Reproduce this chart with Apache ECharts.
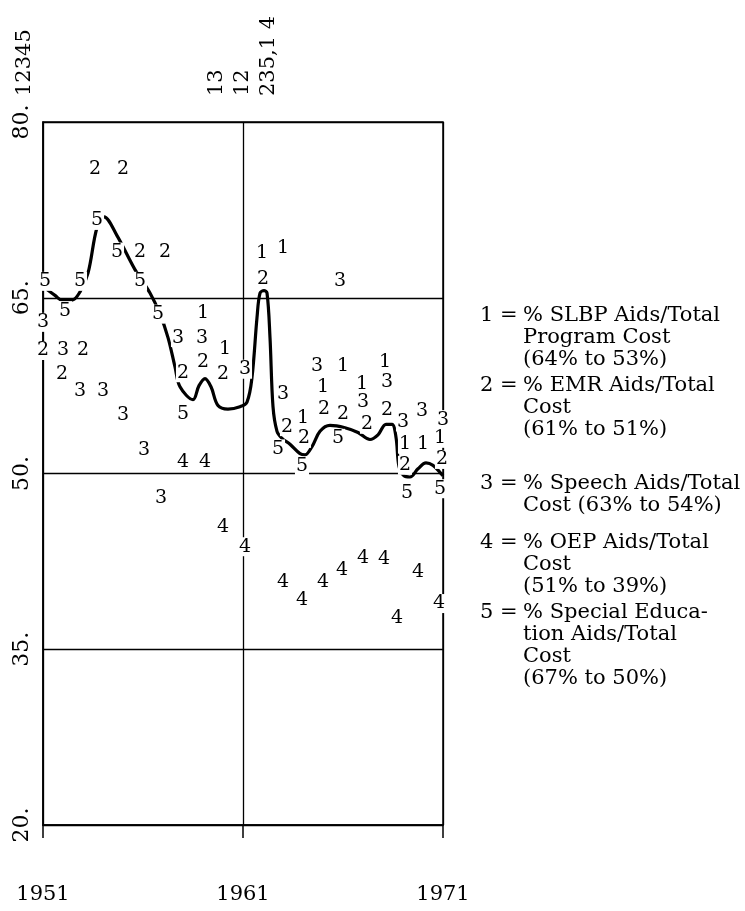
<!DOCTYPE html>
<html>
<head>
<meta charset="utf-8">
<script src="https://cdn.jsdelivr.net/npm/echarts@6/dist/echarts.min.js"></script>
<style>
  html, body { margin: 0; padding: 0; background: #fff; }
  #chart { width: 745px; height: 911px; }
</style>
</head>
<body>
<div id="chart"></div>
<script>
// ---- data ----
const slbpYears = [1959.0, 1960.1, 1961.95, 1963.0, 1964.0, 1965.0, 1966.0, 1966.95, 1968.1, 1969.1, 1970.0, 1970.85];
const slbpValues = [63.7, 60.6, 68.8, 69.2, 54.7, 57.4, 59.2, 57.6, 59.5, 52.5, 52.5, 53.0];

const emrYears = [1951.0, 1951.95, 1953.0, 1953.6, 1955.0, 1955.85, 1957.1, 1958.0, 1959.0, 1960.0, 1962.0, 1963.2, 1964.05, 1965.05, 1966.0, 1967.2, 1968.2, 1969.1, 1970.95];
const emrValues = [60.5, 58.5, 60.5, 76.0, 76.0, 68.9, 68.9, 58.6, 59.5, 58.5, 66.6, 54.0, 53.0, 55.5, 55.1, 54.2, 55.4, 50.7, 51.2];

const speechYears = [1951.0, 1952.0, 1952.85, 1954.0, 1955.0, 1956.05, 1956.9, 1957.75, 1958.95, 1961.1, 1963.0, 1964.7, 1965.85, 1967.0, 1968.2, 1969.0, 1969.95, 1971.0];
const speechValues = [62.9, 60.5, 57.0, 57.0, 55.0, 52.0, 47.9, 61.6, 61.6, 58.9, 56.8, 59.2, 66.4, 56.1, 57.8, 54.4, 55.3, 54.6];

const oepYears = [1958.0, 1959.1, 1960.0, 1961.1, 1963.0, 1963.95, 1965.0, 1965.95, 1967.0, 1968.05, 1968.7, 1969.75, 1970.8];
const oepValues = [51.0, 51.0, 45.4, 43.75, 40.75, 39.2, 40.75, 41.8, 42.8, 42.7, 37.7, 41.6, 38.9];

const speYears = [1951.1, 1952.1, 1952.85, 1953.7, 1954.7, 1955.85, 1956.75, 1958.0, 1962.75, 1963.95, 1965.75, 1969.2, 1970.85];
const speValues = [66.4, 63.9, 66.4, 71.6, 68.9, 66.4, 63.6, 55.1, 52.1, 50.6, 53.0, 48.3, 48.7];

// hand-drawn trend curve for series 5
const curveYears = [1951.2, 1951.6, 1951.95, 1952.45, 1952.85, 1953.25, 1953.7, 1954.05, 1954.7, 1955.6, 1956.35, 1956.85, 1957.25, 1957.6, 1957.85,
  1958.5, 1958.8, 1959.1, 1959.4, 1959.75, 1960.25, 1960.85, 1961.2, 1961.45, 1961.7, 1961.85, 1962.05, 1962.2, 1962.35, 1962.5, 1962.7, 1962.95,
  1963.35, 1963.85, 1964.1, 1964.45, 1964.85, 1965.35, 1966.1, 1966.75, 1967.35, 1967.75, 1968.15, 1968.45, 1968.65, 1968.8, 1969.05, 1969.35,
  1969.75, 1970.15, 1970.5, 1970.85, 1971.0];
const curveValues = [65.7, 65.2, 64.8, 64.8, 65.5, 67.1, 71.0, 71.9, 70.3, 67.4, 65.4, 63.6, 61.6, 59.1, 57.4,
  56.3, 57.5, 58.1, 57.4, 55.8, 55.5, 55.7, 56.1, 58.2, 63.3, 65.4, 65.6, 65.4, 61.6, 55.7, 53.6, 53.0,
  52.5, 51.7, 51.6, 52.3, 53.6, 54.1, 53.9, 53.5, 52.9, 53.3, 54.2, 54.2, 53.1, 50.6, 49.8, 49.7,
  50.4, 50.9, 50.7, 50.1, 49.8];

const xTicks = [1951, 1961, 1971];
const yTicks = [20, 35, 50, 65, 80];

// notes printed above the frame (off-scale markers)
const topNoteYears = [1959.7, 1961.0, 1962.3];
const topNoteTexts = ['13', '12', '235,1 4'];

const legendKeys = ['1 =', '2 =', '3 =', '4 =', '5 ='];
const legendTexts = [
  ['% SLBP Aids/Total', 'Program Cost', '(64% to 53%)'],
  ['% EMR Aids/Total', 'Cost', '(61% to 51%)'],
  ['% Speech Aids/Total', 'Cost (63% to 54%)'],
  ['% OEP Aids/Total', 'Cost', '(51% to 39%)'],
  ['% Special Educa-', 'tion Aids/Total', 'Cost', '(67% to 50%)']
];
const legendTops = [316, 386, 484, 543, 613];

const FONT = 'DejaVu Serif';

function digitSeries(name, digit, years, values) {
  return {
    name: name,
    type: 'scatter',
    z: 5,
    silent: true,
    symbolSize: 1,
    itemStyle: { color: 'rgba(255,255,255,0)' },
    label: {
      show: true,
      position: 'inside',
      formatter: digit,
      fontFamily: FONT,
      fontSize: 19,
      color: '#000',
      opacity: 1,
      textBorderWidth: 0,
      backgroundColor: '#fff',
      padding: [0, 1]
    },
    data: years.map((y, i) => [y, values[i]])
  };
}

const myChart = echarts.init(document.getElementById('chart'));
const option = {
  animation: false,
  backgroundColor: '#fff',
  grid: {
    left: 43, right: 302, top: 122, bottom: 86,
    show: true, borderColor: '#000', borderWidth: 1.5,
    outerBoundsMode: 'none'
  },
  xAxis: {
    type: 'value',
    min: xTicks[0], max: xTicks[xTicks.length - 1], interval: 10,
    axisLine: { show: true, lineStyle: { color: '#000', width: 1.5 } },
    axisTick: { show: true, length: 13, lineStyle: { color: '#000', width: 1.5 } },
    splitLine: { show: true, lineStyle: { color: '#000', width: 1.3 } },
    axisLabel: {
      margin: 59, fontFamily: FONT, fontSize: 21, color: '#000',
      formatter: v => String(v)
    }
  },
  yAxis: {
    type: 'value',
    min: yTicks[0], max: yTicks[yTicks.length - 1], interval: 15,
    axisLine: { show: true, lineStyle: { color: '#000', width: 1.5 } },
    axisTick: { show: false },
    splitLine: { show: true, lineStyle: { color: '#000', width: 1.3 } },
    axisLabel: {
      rotate: 90, align: 'center', verticalAlign: 'bottom', margin: 10,
      fontFamily: FONT, fontSize: 22, color: '#000',
      formatter: v => v + '.'
    }
  },
  series: [
    {
      name: 'Special Education trend',
      type: 'line',
      z: 3,
      silent: true,
      smooth: 0.35,
      showSymbol: false,
      lineStyle: { color: '#000', width: 3.2 },
      data: curveYears.map((y, i) => [y, curveValues[i]])
    },
    digitSeries('SLBP', '1', slbpYears, slbpValues),
    digitSeries('EMR', '2', emrYears, emrValues),
    digitSeries('Speech', '3', speechYears, speechValues),
    digitSeries('OEP', '4', oepYears, oepValues),
    digitSeries('Special Education', '5', speYears, speValues)
  ]
};
myChart.setOption(option);

// annotations and the key, placed after the grid is laid out
const topPx = myChart.convertToPixel('grid', [xTicks[0], yTicks[yTicks.length - 1]]);
const graphics = [];
graphics.push({
  type: 'text', x: topPx[0] - 18, y: topPx[1] - 26, rotation: Math.PI / 2,
  style: { text: '12345', font: '21px "DejaVu Serif"', fill: '#000', textAlign: 'left', textVerticalAlign: 'middle' }
});
topNoteYears.forEach((yr, i) => {
  const p = myChart.convertToPixel('grid', [yr, yTicks[yTicks.length - 1]]);
  graphics.push({
    type: 'text', x: p[0], y: p[1] - 26, rotation: Math.PI / 2,
    style: { text: topNoteTexts[i], font: '21px "DejaVu Serif"', fill: '#000', textAlign: 'left', textVerticalAlign: 'middle' }
  });
});
legendKeys.forEach((k, i) => {
  graphics.push({
    type: 'text', x: 480, y: legendTops[i],
    style: { text: k, font: '21px "DejaVu Serif"', fill: '#000', textAlign: 'left', textVerticalAlign: 'middle' }
  });
  legendTexts[i].forEach((line, j) => {
    graphics.push({
      type: 'text', x: 523, y: legendTops[i] + j * 22,
      style: { text: line, font: '21px "DejaVu Serif"', fill: '#000', textAlign: 'left', textVerticalAlign: 'middle' }
    });
  });
});
myChart.setOption({ graphic: graphics });

window.addEventListener('resize', function () {
  myChart.resize();
});
</script>
</body>
</html>
